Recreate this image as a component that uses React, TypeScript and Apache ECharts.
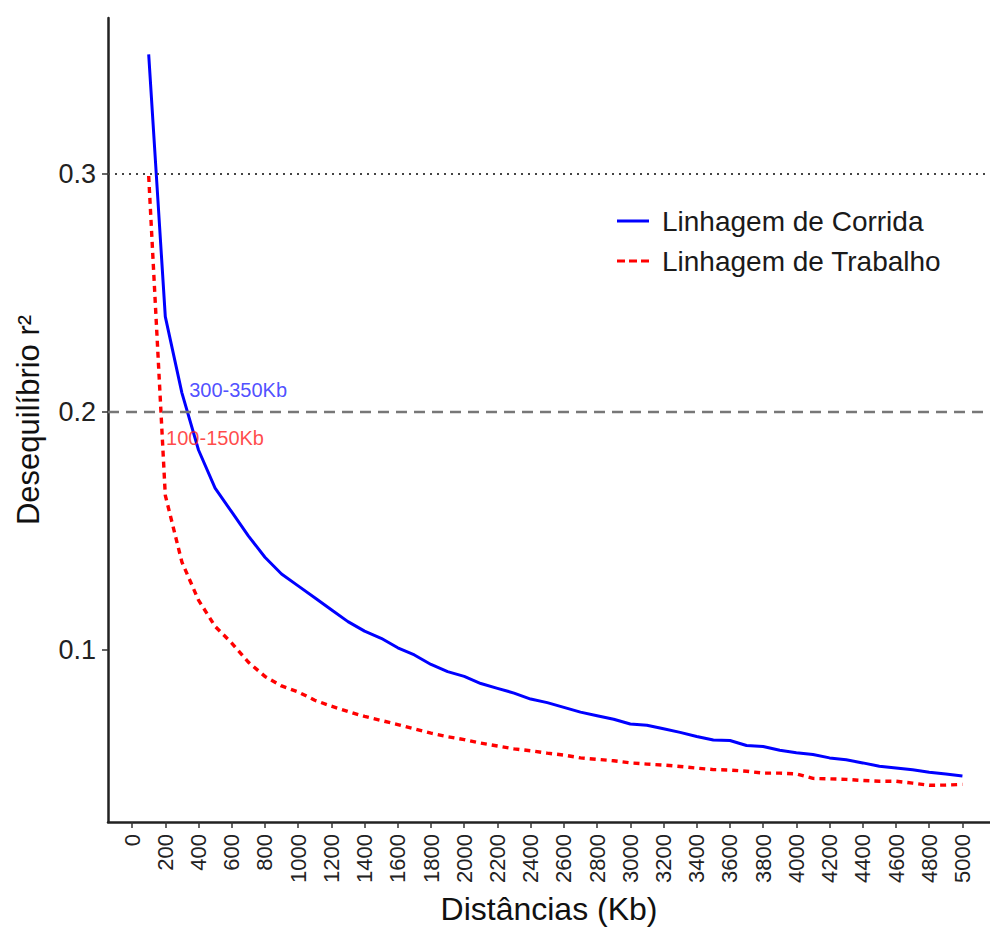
import React, { useEffect, useRef } from "react";
import * as echarts from "echarts";

const distances = [
  100, 200, 300, 400, 500, 600, 700, 800, 900, 1000,
  1100, 1200, 1300, 1400, 1500, 1600, 1700, 1800, 1900, 2000,
  2100, 2200, 2300, 2400, 2500, 2600, 2700, 2800, 2900, 3000,
  3100, 3200, 3300, 3400, 3500, 3600, 3700, 3800, 3900, 4000,
  4100, 4200, 4300, 4400, 4500, 4600, 4700, 4800, 4900, 5000,
];

const corrida = [
  0.35, 0.24, 0.208, 0.184, 0.168, 0.158, 0.148, 0.139, 0.132, 0.127,
  0.122, 0.117, 0.112, 0.108, 0.105, 0.101, 0.098, 0.094, 0.091, 0.089,
  0.086, 0.084, 0.082, 0.0795, 0.078, 0.076, 0.074, 0.0725, 0.071, 0.069,
  0.0685, 0.067, 0.0655, 0.0638, 0.0623, 0.0621, 0.06, 0.0596, 0.058, 0.057,
  0.0562, 0.0548, 0.054, 0.0527, 0.0513, 0.0506, 0.0498, 0.0488, 0.048, 0.0472,
];

const trabalho = [
  0.299, 0.165, 0.137, 0.121, 0.11, 0.103, 0.095, 0.089, 0.085, 0.0825,
  0.079, 0.0765, 0.0743, 0.0722, 0.0705, 0.0688, 0.067, 0.0652, 0.0637, 0.0625,
  0.061, 0.0598, 0.0586, 0.0578, 0.0568, 0.056, 0.0548, 0.0542, 0.0536, 0.0527,
  0.0522, 0.0518, 0.0512, 0.0505, 0.0499, 0.0497, 0.0492, 0.0484, 0.0484, 0.0481,
  0.0462, 0.046, 0.0458, 0.0453, 0.045, 0.045, 0.0442, 0.0433, 0.0434, 0.0437,
];

const xTicks = [
  0, 200, 400, 600, 800, 1000, 1200, 1400, 1600, 1800, 2000, 2200, 2400,
  2600, 2800, 3000, 3200, 3400, 3600, 3800, 4000, 4200, 4400, 4600, 4800, 5000,
];
const yTicks = [0.1, 0.2, 0.3];

const seriesNames = ["Linhagem de Corrida", "Linhagem de Trabalho"];
const refDotted = 0.3;
const refDashed = 0.2;

const annotationX = [344, 205];
const annotationY = [0.209, 0.189];
const annotationText = ["300-350Kb", "100-150Kb"];
const annotationColor = ["#2222ff", "#ff1a1a"];

const FONT = "'Liberation Sans', Arial, Helvetica, sans-serif";

const ICON_SOLID = "path://M0,0h32v3h-32z";
const ICON_DASHED = "path://M0,0h8v3h-8z M12,0h8v3h-8z M24,0h8v3h-8z";

export default function App() {
  const ref = useRef<HTMLDivElement>(null);

  useEffect(() => {
    if (!ref.current) return;
    const chart = echarts.init(ref.current, null, { renderer: "svg" });

    const option: any = {
      animation: false,
      backgroundColor: "#ffffff",
      textStyle: { fontFamily: FONT },
      grid: {
        left: 108,
        top: 18,
        right: 0,
        bottom: 106,
        containLabel: false,
        outerBoundsMode: "none",
      },
      legend: {
        data: [
          { name: seriesNames[0], icon: ICON_SOLID, itemStyle: { color: "#0000ff" } },
          { name: seriesNames[1], icon: ICON_DASHED, itemStyle: { color: "#ff0000" } },
        ],
        orient: "vertical",
        left: 612,
        top: 202,
        itemWidth: 32,
        itemHeight: 3,
        itemGap: 12,
        textStyle: {
          fontFamily: FONT,
          fontSize: 28,
          color: "#1a1a1a",
          padding: [0, 0, 0, 8],
        },
      },
      xAxis: {
        type: "value",
        min: -145,
        max: 5166,
        name: "Distâncias (Kb)",
        nameLocation: "middle",
        nameGap: 71,
        nameTextStyle: { fontFamily: FONT, fontSize: 32, color: "#111" },
        axisLine: { show: true, onZero: false, lineStyle: { color: "#222", width: 2.5 } },
        axisTick: {
          show: true,
          length: 6,
          customValues: xTicks,
          lineStyle: { color: "#333", width: 1.5 },
        },
        axisLabel: {
          customValues: xTicks,
          rotate: 90,
          margin: 12,
          fontSize: 22,
          color: "#222",
          fontFamily: FONT,
          formatter: (v: number) => String(v),
        },
        splitLine: { show: false },
      },
      yAxis: {
        type: "value",
        min: 0.0279,
        max: 0.3653,
        name: "Desequilíbrio r²",
        nameLocation: "middle",
        nameGap: 64,
        nameTextStyle: { fontFamily: FONT, fontSize: 31, color: "#111" },
        axisLine: { show: true, onZero: false, lineStyle: { color: "#222", width: 2.5 } },
        axisTick: {
          show: true,
          length: 6,
          customValues: yTicks,
          lineStyle: { color: "#333", width: 1.5 },
        },
        axisLabel: {
          customValues: yTicks,
          margin: 12,
          fontSize: 27,
          color: "#222",
          fontFamily: FONT,
          formatter: (v: number) => v.toFixed(1),
        },
        splitLine: { show: false },
      },
      series: [
        {
          name: seriesNames[0],
          type: "line",
          symbol: "none",
          showSymbol: false,
          data: distances.map((d, i) => [d, corrida[i]]),
          lineStyle: { color: "#0000ff", width: 3, type: "solid" },
          itemStyle: { color: "#0000ff" },
          z: 3,
          markLine: {
            silent: true,
            symbol: "none",
            label: { show: false },
            data: [
              {
                yAxis: refDotted,
                lineStyle: { color: "#444", width: 1.8, type: [2, 5] },
              },
              {
                yAxis: refDashed,
                lineStyle: { color: "#777", width: 2.4, type: [11, 7] },
              },
            ],
          },
        },
        {
          name: seriesNames[1],
          type: "line",
          symbol: "none",
          showSymbol: false,
          data: distances.map((d, i) => [d, trabalho[i]]),
          lineStyle: { color: "#ff0000", width: 3.4, type: [6, 5] },
          itemStyle: { color: "#ff0000" },
          z: 3,
        },
        {
          name: "annotations",
          type: "scatter",
          symbolSize: 0,
          silent: true,
          data: annotationX.map((x, i) => ({
            value: [x, annotationY[i]],
            label: {
              show: true,
              position: "right",
              distance: 0,
              formatter: annotationText[i],
              color: annotationColor[i],
              fontSize: 20,
              fontFamily: FONT,
            },
          })),
          z: 4,
        },
      ],
    };

    chart.setOption(option);
    return () => chart.dispose();
  }, []);

  return (
    <div
      ref={ref}
      style={{ position: "absolute", left: 0, top: 0, width: 990, height: 928 }}
    />
  );
}
